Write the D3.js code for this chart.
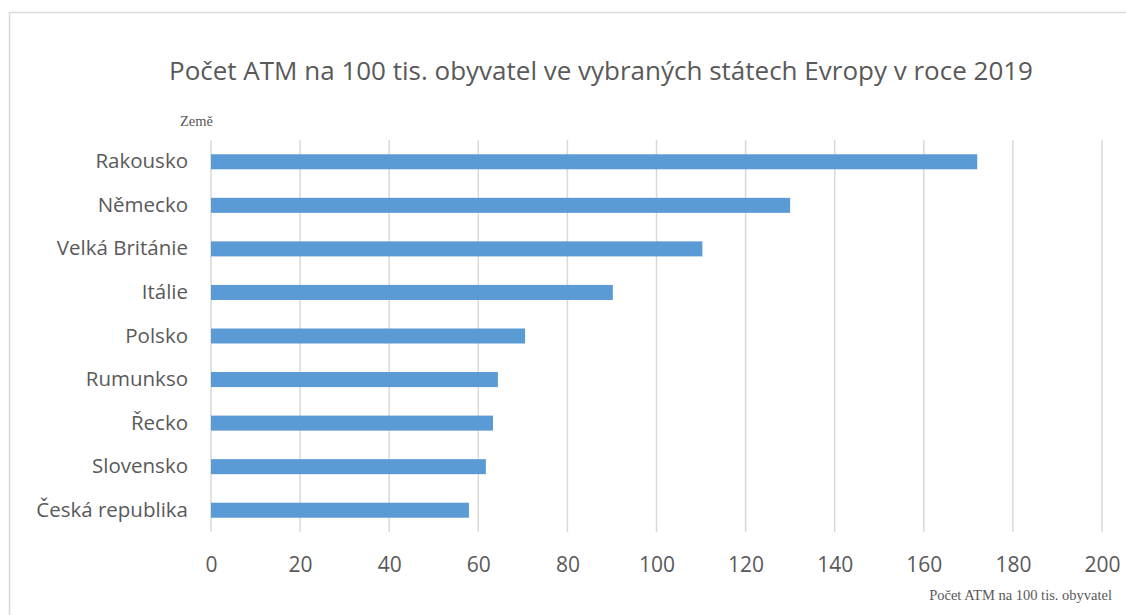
<!DOCTYPE html>
<html>
<head>
  <meta charset="utf-8">
  <script src="https://d3js.org/d3.v7.min.js"></script>
  <style>
    body { margin: 0; background: #fff; }
    svg text { fill: #595959; }
  </style>
</head>
<body>
<svg width="1126" height="615"></svg>
<script>
// data, listed top to bottom as in the picture
var countries = ["Rakousko", "Německo", "Velká Británie", "Itálie", "Polsko",
                 "Rumunkso", "Řecko", "Slovensko", "Česká republika"];
var atmValues = [172, 130, 110.3, 90.2, 70.5, 64.4, 63.3, 61.7, 57.9];
var xTicks = [0, 20, 40, 60, 80, 100, 120, 140, 160, 180, 200];

var svg = d3.select("svg"),
    margin = {top: 140, right: 24, bottom: 83, left: 211},
    width = 1102 - margin.left,
    height = 532 - margin.top,
    g = svg.append("g").attr("transform", "translate(" + margin.left + "," + margin.top + ")");

// outer chart border (only top and left are in view)
svg.append("path")
  .attr("d", "M9.5,630 V12.5 H1140")
  .attr("fill", "none")
  .attr("stroke", "#d9d9d9")
  .attr("stroke-width", 1.5);

var x = d3.scaleLinear().domain([0, 200]).range([0, width]);
var y = d3.scaleBand().domain(countries).range([0, height]).paddingInner(0.655).paddingOuter(0.3275);

// vertical gridlines
g.append("g")
  .selectAll("line")
  .data(xTicks)
  .enter().append("line")
    .attr("x1", function(d) { return x(d); })
    .attr("x2", function(d) { return x(d); })
    .attr("y1", 0)
    .attr("y2", height)
    .attr("stroke", "#d9d9d9")
    .attr("stroke-width", 1.5);

// bars
g.append("g")
  .selectAll("rect")
  .data(countries)
  .enter().append("rect")
    .attr("x", x(0))
    .attr("y", function(d) { return y(d); })
    .attr("width", function(d, i) { return x(atmValues[i]) - x(0); })
    .attr("height", y.bandwidth())
    .attr("fill", "#5b9bd5");

// x axis labels
var xAxis = g.append("g")
  .attr("transform", "translate(0," + height + ")")
  .call(d3.axisBottom(x).tickValues(xTicks).tickSize(0).tickPadding(25));
xAxis.select(".domain").remove();
xAxis.selectAll("text")
  .attr("font-family", "'Open Sans', sans-serif")
  .attr("font-size", "21px")
  .style("fill", "#595959");

// y axis labels
var yAxis = g.append("g")
  .call(d3.axisLeft(y).tickSize(0).tickPadding(23));
yAxis.select(".domain").remove();
yAxis.selectAll("text")
  .attr("font-family", "'Open Sans', sans-serif")
  .attr("font-size", "20.5px")
  .style("fill", "#595959");

// title
svg.append("text")
  .attr("x", 601)
  .attr("y", 80)
  .attr("text-anchor", "middle")
  .attr("font-family", "'Open Sans', sans-serif")
  .attr("font-size", "26px")
  .text("Počet ATM na 100 tis. obyvatel ve vybraných státech Evropy v roce 2019");

// axis titles
svg.append("text")
  .attr("x", 180)
  .attr("y", 126)
  .attr("font-family", "'Liberation Serif', serif")
  .attr("font-size", "14.5px")
  .text("Země");

svg.append("text")
  .attr("x", 1112)
  .attr("y", 600)
  .attr("text-anchor", "end")
  .attr("font-family", "'Liberation Serif', serif")
  .attr("font-size", "14.5px")
  .text("Počet ATM na 100 tis. obyvatel");
</script>
</body>
</html>
